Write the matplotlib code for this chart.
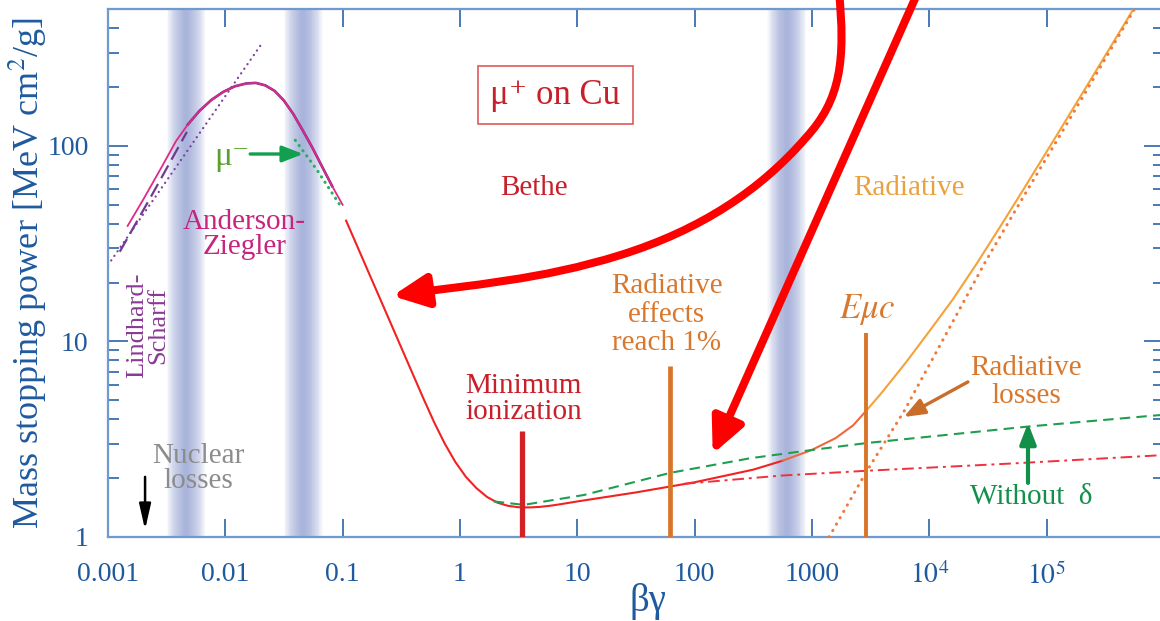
import matplotlib
matplotlib.use('Agg')
import matplotlib.pyplot as plt
from matplotlib.patches import FancyArrowPatch
from matplotlib.path import Path
from matplotlib.ticker import LogLocator, NullFormatter, NullLocator

plt.rcParams['font.family'] = ['Liberation Serif', 'DejaVu Serif']
plt.rcParams['mathtext.fontset'] = 'stix'

# ---- curves: beta*gamma vs mass stopping power [MeV cm^2/g] ----
# Anderson-Ziegler region
az_bg = [0.00147, 0.0020, 0.00282, 0.0038, 0.00479, 0.00603, 0.00759, 0.00955,
         0.0120, 0.0151, 0.0182, 0.0219, 0.0263, 0.0316, 0.0380, 0.0457,
         0.0550, 0.0661, 0.0813, 0.100]
az_dedx = [39.0, 53.3, 76.7, 105.9, 128.8, 151.4, 171.8, 188.8, 201.8, 208.9,
           210.2, 204.2, 191.4, 170.6, 145.6, 120.2, 98.4, 79.4, 62.4, 50.0]

# Lindhard-Scharff (dashed) and its extension (dotted)
ls_bg = [0.00126, 0.0024, 0.0047]
ls_dedx = [28.8, 57, 118]
ls_ext_bg = [0.001, 0.0206]
ls_ext_dedx = [24.6, 336]

# mu- (Barkas effect)
mum_bg = [0.0395, 0.0604, 0.0946]
mum_dedx = [107, 75.4, 50]

# Bethe + radiative total
tot_bg = [0.107, 0.1506, 0.223, 0.331, 0.490, 0.603, 0.741, 0.912, 1.122,
          1.380, 1.698, 2.089, 2.570, 3.162, 3.890, 4.786, 5.888, 7.244, 10,
          31.6, 100, 316, 562, 1000, 1585, 2239, 2900, 3981, 6310, 10000,
          15850, 25120, 39810, 63100, 125900, 251200, 562000]
tot_dedx = [41.5, 25.9, 15.07, 8.73, 5.08, 3.855, 3.006, 2.421, 2.032,
            1.778, 1.603, 1.497, 1.443, 1.419, 1.416, 1.425, 1.445, 1.472, 1.52,
            1.69, 1.905, 2.21, 2.455, 2.79, 3.20, 3.72, 4.42, 5.52, 7.80, 11.27,
            16.4, 24.8, 38.3, 59.6, 117, 231, 513]

# ionization only, without radiative losses
ion_bg = [81, 542, 2877, 53100, 950000]
ion_dedx = [1.87, 2.06, 2.18, 2.38, 2.62]

# without delta rays
nod_bg = [1.94, 3.5, 11.4, 62.4, 300, 1114, 2877, 69000, 950000]
nod_dedx = [1.52, 1.46, 1.64, 2.13, 2.53, 2.81, 3.02, 3.67, 4.21]

# radiative losses alone
rad_bg = [1400, 2900, 6100, 14000, 30000, 60000, 150000, 560000]
rad_dedx = [1.0, 2.15, 4.4, 11.0, 25.5, 52, 131, 500]

# vertical markers: minimum ionization, radiative 1%, muon critical energy
mark_bg = [3.4, 61.5, 2900]
mark_top = [3.5, 7.5, 11.0]

# shaded bands
band_bg = [0.00463, 0.0461, 610]

xtick_vals = [1e-3, 1e-2, 1e-1, 1, 10, 100, 1000, 1e4, 1e5]
xtick_labels = ['0.001', '0.01', '0.1', '1', '10', '100', '1000', '$10^4$', '$10^5$']
ytick_vals = [1, 10, 100]
ytick_labels = ['1', '10', '100']

blue = '#1f5a9e'
red = '#f22222'
orange = '#f4a23a'
coral = '#f0673f'
green = '#1f9e52'

fig = plt.figure(figsize=(11.6, 6.21), dpi=100)
ax = fig.add_axes([0.0931, 0.1353, 0.9103, 0.8502])
ax.set_xscale('log')
ax.set_yscale('log')
ax.set_xlim(1e-3, 1e6)
ax.set_ylim(1, 502)

# soft blue bands
n = 20
for c in band_bg:
    for i in range(n):
        half = 0.165 * (1 - i / n) ** 0.8
        ax.axvspan(c / 10**half, c * 10**half, color='#7a8ccd', alpha=0.045,
                   lw=0, zorder=0)

# low-energy curves
ax.plot(ls_ext_bg, ls_ext_dedx, color='#7e3f9e', lw=1.6, dashes=(0.1, 2.4),
        dash_capstyle='round', zorder=2)
ax.plot(ls_bg, ls_dedx, color='#6e3a92', lw=1.6, dashes=(6.5, 3), zorder=2)
ax.plot(az_bg[4:19], az_dedx[4:19], color='#6a2f8a', lw=1.9, zorder=2)
ax.plot(az_bg, az_dedx, color='#df2a86', lw=1.3, zorder=3)
ax.plot(mum_bg, mum_dedx, color='#29b05c', lw=2.2, dashes=(0.1, 2.0),
        dash_capstyle='round', zorder=3)

# Bethe / total curve in three colour stages
lo = [i for i, b in enumerate(tot_bg) if b <= 562]
mid = [i for i, b in enumerate(tot_bg) if 562 <= b <= 2900]
hi = [i for i, b in enumerate(tot_bg) if b >= 2900]
for idx, col in ((lo, red), (mid, coral), (hi, orange)):
    ax.plot([tot_bg[i] for i in idx], [tot_dedx[i] for i in idx],
            color=col, lw=1.5, zorder=3, solid_joinstyle='round')

ax.plot(ion_bg, ion_dedx, color='#f0303c', lw=1.4, dashes=(6, 2.5, 1.5, 2.5), zorder=3)
ax.plot(nod_bg, nod_dedx, color=green, lw=1.5, dashes=(5, 3), zorder=3)
ax.plot(rad_bg, rad_dedx, color='#f07a3a', lw=2.2, dashes=(0.1, 2.3),
        dash_capstyle='round', zorder=3)

# vertical markers
for b, top, col, w in zip(mark_bg, mark_top,
                          ['#d42128', '#d9752a', '#d9752a'], [3.8, 3.4, 2.8]):
    ax.plot([b, b], [1, top], color=col, lw=w, solid_capstyle='butt', zorder=4)

# axes styling
for side in ('top', 'bottom', 'left', 'right'):
    ax.spines[side].set_color('#6f9ad0')
    ax.spines[side].set_linewidth(1.6)
ax.set_xticks(xtick_vals)
ax.set_xticklabels(xtick_labels)
ax.xaxis.set_minor_locator(NullLocator())
ax.set_yticks(ytick_vals)
ax.set_yticklabels(ytick_labels)
ax.yaxis.set_minor_locator(LogLocator(subs=range(2, 10)))
ax.yaxis.set_minor_formatter(NullFormatter())
ax.tick_params(which='both', direction='in', top=True, right=True,
               color='#2a64a8', labelcolor=blue, labelsize=20)
ax.tick_params(axis='x', which='major', length=13, width=1.2, pad=18)
ax.tick_params(axis='y', which='major', length=14.5, width=1.2, pad=14)
ax.tick_params(axis='y', which='minor', length=8, width=1.2)

ax.set_xlabel('βγ', fontsize=28, color=blue)
ax.xaxis.set_label_coords(0.511, -0.088)
ax.set_ylabel('Mass stopping power [MeV cm$^2$/g]', fontsize=26, color=blue)
ax.yaxis.set_label_coords(-0.056, 0.5)

# labels
fs = 21
ax.text(6.5, 182, 'μ⁺ on Cu', fontsize=25, color='#c8202a', ha='center', va='center',
        bbox=dict(boxstyle='square,pad=0.35', fc='white', ec='#e05a5a', lw=1.2))
ax.text(4.3, 61, 'Bethe', fontsize=fs, color='#c8202a', ha='center', va='center')
ax.text(6700, 61, 'Radiative', fontsize=fs, color='#eba23e', ha='center', va='center')
ax.text(57.7, 13.7, 'Radiative\neffects\nreach 1%', fontsize=fs, color='#d9782d',
        ha='center', va='center', linespacing=1.12)
ax.text(3.48, 5.08, 'Minimum\nionization', fontsize=fs, color='#c8202a',
        ha='center', va='center', linespacing=1.02)
ax.text(2937, 14.6, r'$E\mu c$', fontsize=25, color='#d9782d', ha='center', va='center')
ax.text(66700, 6.2, 'Radiative\nlosses', fontsize=fs, color='#d9782d',
        ha='center', va='center', linespacing=1.1)
ax.text(73600, 1.6, 'Without  δ', fontsize=fs, color='#12904a', ha='center', va='center')
ax.text(0.01143, 88, 'μ⁻', fontsize=fs + 3, color='#5aa02a', ha='center', va='center')
ax.text(0.01445, 35.1, 'Anderson-\nZiegler', fontsize=fs, color='#c8237f',
        ha='center', va='center', linespacing=0.95)
ax.text(0.00219, 12.1, 'Lindhard-\nScharff', fontsize=19, color='#8b3a96',
        ha='center', va='center', rotation=90, linespacing=0.95)
ax.text(0.00586, 2.25, 'Nuclear\nlosses', fontsize=fs, color='#8c8c8c',
        ha='center', va='center', linespacing=0.95)

# small pointer arrows
ax.annotate('', xy=(0.0461, 91), xytext=(0.0163, 91),
            arrowprops=dict(arrowstyle='-|>,head_length=0.9,head_width=0.35',
                            color='#12a050', lw=2.4, mutation_scale=14,
                            shrinkA=0, shrinkB=0))
ax.annotate('', xy=(6070, 4.11), xytext=(21340, 6.21),
            arrowprops=dict(arrowstyle='-|>,head_length=0.9,head_width=0.35',
                            color='#c86e2a', lw=2.4, mutation_scale=14,
                            shrinkA=0, shrinkB=0))
ax.annotate('', xy=(69400, 3.83), xytext=(69400, 1.89),
            arrowprops=dict(arrowstyle='-|>,head_length=0.9,head_width=0.35',
                            color='#12904a', lw=3.0, mutation_scale=14,
                            shrinkA=0, shrinkB=0))
ax.annotate('', xy=(0.00207, 1.09), xytext=(0.00207, 2.03),
            arrowprops=dict(arrowstyle='-|>,head_length=1.1,head_width=0.25',
                            color='black', lw=1.8, mutation_scale=14,
                            shrinkA=0, shrinkB=0))

# big red pointers
curve_verts = [(1694, 628), (1942, 275), (1762, 172), (885, 110),
               (366, 59.6), (112.5, 37.2), (23.4, 27.7),
               (4.85, 20.6), (1.227, 19.5), (0.265, 17.1)]
curve_codes = [Path.MOVETO] + [Path.CURVE4] * 9
big = FancyArrowPatch(path=Path(curve_verts, curve_codes),
                      arrowstyle='-|>,head_length=0.95,head_width=0.45',
                      mutation_scale=22, color='#ff0000', lw=5.8,
                      transform=ax.transData, clip_on=False, zorder=6)
ax.add_patch(big)
straight = FancyArrowPatch((8150, 628), (142.6, 2.66),
                           arrowstyle='-|>,head_length=0.95,head_width=0.45',
                           mutation_scale=22, color='#ff0000', lw=5.8,
                           shrinkA=0, shrinkB=0,
                           transform=ax.transData, clip_on=False, zorder=6)
ax.add_patch(straight)

fig.savefig('out.png', dpi=100)
